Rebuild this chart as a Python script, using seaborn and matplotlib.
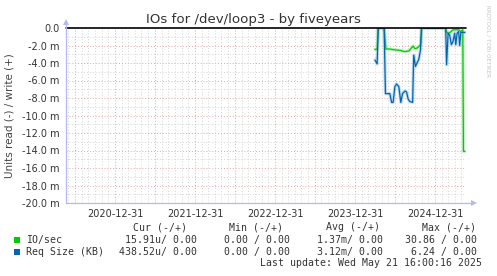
import numpy as np
import pandas as pd
import matplotlib
matplotlib.use("Agg")
import matplotlib.pyplot as plt
import matplotlib.dates as mdates
import seaborn as sns

# ---------------- data ----------------
io_dates = ["2024-04-01", "2024-04-11", "2024-04-16", "2024-05-13", "2024-05-21",
            "2024-06-08", "2024-07-01", "2024-07-24", "2024-08-16", "2024-09-04",
            "2024-09-22", "2024-09-30", "2024-10-10", "2024-10-19", "2024-10-27",
            "2024-11-01", "2025-02-18", "2025-02-20", "2025-03-01", "2025-03-11",
            "2025-03-23", "2025-04-07", "2025-04-19", "2025-04-28", "2025-05-07",
            "2025-05-10", "2025-05-17"]
io_vals = [-2.44, -2.44, 0.0, 0.0, -2.4,
           -2.4, -2.5, -2.55, -2.7, -2.6,
           -2.06, -2.36, -2.3, -2.1, -1.9,
           0.0, 0.0, -0.4, -0.6, -0.5,
           -0.2, -0.2, -0.2, -0.4, -0.2,
           -14.1, -14.1]

req_dates = ["2024-04-01", "2024-04-11", "2024-04-16", "2024-05-13", "2024-05-19",
             "2024-06-08", "2024-06-16", "2024-06-23", "2024-07-01", "2024-07-09",
             "2024-07-19", "2024-07-28", "2024-08-05", "2024-08-16", "2024-08-23",
             "2024-08-31", "2024-09-07", "2024-09-20", "2024-09-25", "2024-10-03",
             "2024-10-10", "2024-10-18", "2024-10-26", "2024-10-30", "2025-02-18",
             "2025-02-22", "2025-03-01", "2025-03-08", "2025-03-16", "2025-03-23",
             "2025-03-31", "2025-04-05", "2025-04-11", "2025-04-18", "2025-04-23",
             "2025-04-28", "2025-05-08", "2025-05-17"]
req_vals = [-3.66, -4.1, 0.0, 0.0, -7.5,
            -7.5, -8.5, -8.5, -6.7, -6.4,
            -6.7, -8.5, -7.5, -7.2, -7.3,
            -8.15, -8.4, -8.5, -3.1, -4.4,
            -4.0, -3.6, -2.5, 0.0, 0.0,
            -4.2, -0.6, -0.8, -1.9, -1.56,
            -0.6, -1.9, -0.6, -0.4, -2.0,
            -0.5, -0.5, -0.5]

x_start = "2020-05-21 16:00"
x_end = "2025-05-21 16:00"
xtick_dates = ["2021-01-01", "2022-01-01", "2023-01-01", "2024-01-01", "2025-01-01"]
xtick_labels = ["2020-12-31", "2021-12-31", "2022-12-31", "2023-12-31", "2024-12-31"]
ytick_vals = [0, -2, -4, -6, -8, -10, -12, -14, -16, -18, -20]

title = "IOs for /dev/loop3 - by fiveyears"
ylabel = "Units read (-) / write (+)"
legend_names = ["IO/sec", "Req Size (KB)"]
legend_headers = ["Cur (-/+)", "Min (-/+)", "Avg (-/+)", "Max (-/+)"]
legend_io = ["15.91u/ 0.00", "0.00 / 0.00", "1.37m/ 0.00", "30.86 / 0.00"]
legend_req = ["438.52u/ 0.00", "0.00 / 0.00", "3.12m/ 0.00", "6.24 / 0.00"]
last_update = "Last update: Wed May 21 16:00:16 2025"

GREEN = "#00CC00"
BLUE = "#0066B3"

# ---------------- figure ----------------
sns.set_theme(style="white")
plt.rcParams["font.family"] = ["DejaVu Sans"]

W, H = 497, 276
fig = plt.figure(figsize=(W / 100, H / 100), dpi=100)
fig.patch.set_facecolor("white")

def fx(px):
    return px / W

def fy(py):
    return 1 - py / H

L, R, T, B = 66, 466, 28, 203
ax = fig.add_axes([fx(L), fy(B), (R - L) / W, (B - T) / H])
ax.set_facecolor("white")

x0 = pd.Timestamp(x_start)
x1 = pd.Timestamp(x_end)

# grid (drawn manually)
minor_months = pd.date_range("2020-06-01", "2025-05-01", freq="MS")
major_halfyears = [d for d in minor_months if d.month in (1, 7)]
for d in minor_months:
    if d.month not in (1, 7):
        ax.axvline(d, color="#d4d4d4", lw=0.7, ls=(0, (1, 2)), zorder=0)
for v in range(-19, 0, 2):
    ax.axhline(v, color="#d4d4d4", lw=0.7, ls=(0, (1, 2)), zorder=0)
for d in major_halfyears:
    ax.axvline(d, color="#e6a6a6", lw=0.7, ls=(0, (1, 2)), zorder=0.5)
for v in ytick_vals[1:-1]:
    ax.axhline(v, color="#e6a6a6", lw=0.7, ls=(0, (1, 2)), zorder=0.5)

df_io = pd.DataFrame({"date": pd.to_datetime(io_dates), "value": io_vals})
df_req = pd.DataFrame({"date": pd.to_datetime(req_dates), "value": req_vals})

# soft shading under the lines (gradient look)
sns.lineplot(data=df_io, x="date", y="value", ax=ax, color="#9ee69e",
             lw=2.4, alpha=0.6, estimator=None, zorder=2)
sns.lineplot(data=df_req, x="date", y="value", ax=ax, color="#9cc4e4",
             lw=2.4, alpha=0.6, estimator=None, zorder=2)
sns.lineplot(data=df_io, x="date", y="value", ax=ax, color=GREEN,
             lw=0.9, estimator=None, zorder=3)
sns.lineplot(data=df_req, x="date", y="value", ax=ax, color=BLUE,
             lw=0.9, estimator=None, zorder=4)

ax.axhline(0, color="black", lw=1.2, zorder=5, clip_on=False)

ax.set_xlim(x0, x1)
ax.set_ylim(-20, 0)
ax.set_xlabel("")
ax.set_ylabel("")

# ticks
ax.set_xticks(pd.to_datetime(major_halfyears))
lab_map = dict(zip(pd.to_datetime(xtick_dates), xtick_labels))
ax.set_xticklabels([lab_map.get(d, "") for d in pd.to_datetime(major_halfyears)])
ax.set_yticks(ytick_vals)
ax.set_yticklabels(["0.0" if v == 0 else f"{v:.1f} m" for v in ytick_vals])
ax.tick_params(axis="x", length=2.0, width=0.7, color="#e6a6a6", pad=2.5,
               labelsize=7, labelcolor="#333333", direction="out")
ax.tick_params(axis="y", length=2.0, width=0.7, color="#e6a6a6", pad=2.5,
               labelsize=7, labelcolor="#333333", direction="out")

for s in ax.spines.values():
    s.set_visible(False)

# axis lines with arrows
AX_COL = "#b4b8ec"
ax.plot([0, 0], [0, 1.03], transform=ax.transAxes, color=AX_COL, lw=0.9,
        clip_on=False, zorder=6)
ax.plot([0, 1.015], [0, 0], transform=ax.transAxes, color=AX_COL, lw=0.9,
        clip_on=False, zorder=6)
ax.plot([0], [1.035], marker="^", ms=4, color=AX_COL, transform=ax.transAxes,
        clip_on=False, zorder=6, mew=0)
ax.plot([1.02], [0], marker=">", ms=4, color=AX_COL, transform=ax.transAxes,
        clip_on=False, zorder=6, mew=0)

# texts
fig.text(fx(253.5), fy(23.3), title, ha="center", va="baseline",
         fontsize=9.6, color="#333333")
fig.text(fx(10), fy(115.5), ylabel, ha="center", va="center", rotation=90,
         fontsize=7.5, color="#444444")
fig.text(fx(488), fy(41), "RRDTOOL / TOBI OETIKER", ha="center", va="center",
         rotation=270, fontsize=4.1, color="#c4c4c4")

MONO = "DejaVu Sans Mono"
MS = 7.1
TCOL = "#333333"
hdr_right = [186.7, 283.3, 380.0, 476.0]
val_right = [196.7, 290.0, 383.0, 476.7]
for txt, xr in zip(legend_headers, hdr_right):
    fig.text(fx(xr), fy(227.3), txt, ha="right", va="center", family=MONO,
             fontsize=MS, color=TCOL)
for row_y, name, vals, col in [(240.0, legend_names[0], legend_io, GREEN),
                               (251.7, legend_names[1], legend_req, BLUE)]:
    fig.patches.append(plt.Rectangle((fx(13.5), fy(row_y + 3)), 6 / W, 6 / H,
                                     transform=fig.transFigure, facecolor=col,
                                     edgecolor="none"))
    fig.text(fx(26.5), fy(row_y), name, ha="left", va="center", family=MONO,
             fontsize=MS, color=TCOL)
    for txt, xr in zip(vals, val_right):
        fig.text(fx(xr), fy(row_y), txt, ha="right", va="center", family=MONO,
                 fontsize=MS, color=TCOL)
fig.text(fx(481.7), fy(263.3), last_update, ha="right", va="center",
         family=MONO, fontsize=MS, color=TCOL)

fig.savefig("out.png", dpi=100, facecolor="white")
